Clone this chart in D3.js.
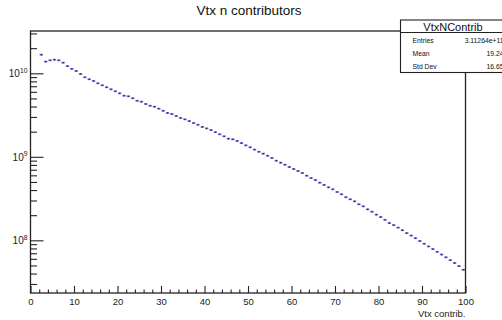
<!DOCTYPE html>
<html>
<head>
<meta charset="utf-8">
<script src="https://cdn.jsdelivr.net/npm/d3@7"></script>
<style>
  html, body { margin: 0; padding: 0; background: #fff; }
  svg { display: block; font-family: "Liberation Sans", Arial, Helvetica, sans-serif; }
</style>
</head>
<body>
<svg id="chart" width="502" height="320"></svg>
<script>
// Histogram of the number of contributors per vertex, bins of width 1 from 0 to 100
const binEdges = [0, 100];
const binCounts = [
  0, 0, 1.67e10, 1.38e10, 1.43e10, 1.455e10, 1.43e10, 1.34e10, 1.22e10, 1.13e10,
  1.065e10, 9.81e9, 8.96e9, 8.48e9, 8.09e9, 7.59e9, 7.18e9, 6.80e9, 6.43e9, 6.09e9,
  5.76e9, 5.39e9, 5.30e9, 5.02e9, 4.69e9, 4.57e9, 4.29e9, 4.09e9, 3.98e9, 3.77e9,
  3.56e9, 3.35e9, 3.25e9, 3.08e9, 2.92e9, 2.81e9, 2.68e9, 2.54e9, 2.42e9, 2.28e9,
  2.19e9, 2.09e9, 1.97e9, 1.86e9, 1.76e9, 1.65e9, 1.62e9, 1.55e9, 1.46e9, 1.37e9,
  1.30e9, 1.22e9, 1.15e9, 1.09e9, 1.03e9, 9.67e8, 8.98e8, 8.50e8, 8.04e8, 7.55e8,
  7.14e8, 6.76e8, 6.40e8, 5.94e8, 5.57e8, 5.27e8, 4.90e8, 4.60e8, 4.31e8, 4.08e8,
  3.79e8, 3.56e8, 3.28e8, 3.10e8, 2.93e8, 2.70e8, 2.55e8, 2.35e8, 2.20e8, 2.03e8,
  1.90e8, 1.76e8, 1.61e8, 1.52e8, 1.42e8, 1.32e8, 1.22e8, 1.14e8, 1.06e8, 9.81e7,
  9.10e7, 8.45e7, 7.85e7, 7.29e7, 6.76e7, 6.26e7, 5.79e7, 5.35e7, 4.92e7, 4.44e7
];

// Axis ticks and labels
const xMajorTicks = [0, 10, 20, 30, 40, 50, 60, 70, 80, 90, 100];
const xMinorTicks = d3.range(0, 101, 2).filter(v => v % 10 !== 0);
const yMajorTicks = [1e8, 1e9, 1e10];
const yMajorExponents = ["8", "9", "10"];
const yRange = [2.34e7, 3.21e10];

// Statistics box
const statsTitle = "VtxNContrib";
const statsNames = ["Entries", "Mean", "Std Dev"];
const statsValues = ["3.11264e+11", "19.24", "16.65"];

const chartTitle = "Vtx n contributors";
const xTitle = "Vtx contrib.";

const frame = { left: 30.5, right: 465.5, top: 31, bottom: 293 };

const svg = d3.select("#chart");

const x = d3.scaleLinear().domain(binEdges).range([frame.left, frame.right]);
const y = d3.scaleLog().domain(yRange).range([frame.bottom, frame.top]);

// Minor log ticks: 2..9 x 10^n inside the range
const yMinorTicks = [];
for (let e = 7; e <= 10; e++) {
  for (let k = 2; k <= 9; k++) {
    const v = k * Math.pow(10, e);
    if (v > yRange[0] && v < yRange[1]) yMinorTicks.push(v);
  }
}

// Histogram bins: one short horizontal stroke per bin plus a centre marker
const bins = binCounts.map((c, i) => ({ lo: i, hi: i + 1, c })).filter(d => d.c > 0);
const gHist = svg.append("g");
gHist.selectAll("line.bin")
  .data(bins)
  .join("line")
  .attr("class", "bin")
  .attr("x1", d => x(d.lo) + 0.5)
  .attr("x2", d => x(d.hi) - 0.5)
  .attr("y1", d => y(d.c))
  .attr("y2", d => y(d.c))
  .attr("stroke", "#7070d6")
  .attr("stroke-width", 1.8);
gHist.selectAll("rect.mk")
  .data(bins)
  .join("rect")
  .attr("class", "mk")
  .attr("x", d => x((d.lo + d.hi) / 2) - 0.6)
  .attr("y", d => y(d.c) - 0.6)
  .attr("width", 1.2)
  .attr("height", 1.2)
  .attr("fill", "#1c1c5c");

// X axis ticks (pointing into the frame)
const axisStroke = "#222";
const gxMinor = svg.append("g").attr("transform", `translate(0,${frame.bottom})`)
  .call(d3.axisBottom(x).tickValues(xMinorTicks).tickSize(-3.5).tickFormat(() => ""));
const gxMajor = svg.append("g").attr("transform", `translate(0,${frame.bottom})`)
  .call(d3.axisBottom(x).tickValues(xMajorTicks).tickSize(-7).tickPadding(5).tickFormat(d3.format("d")));
[gxMinor, gxMajor].forEach(g => {
  g.select(".domain").remove();
  g.selectAll(".tick line").attr("stroke", axisStroke).attr("stroke-width", 1.1);
});
gxMajor.selectAll(".tick text")
  .attr("fill", "#222")
  .attr("font-size", 9.5)
  .attr("font-family", "Liberation Sans, Arial, sans-serif");

// Y axis ticks (pointing into the frame)
const gyMinor = svg.append("g").attr("transform", `translate(${frame.left},0)`)
  .call(d3.axisLeft(y).tickValues(yMinorTicks).tickSize(-6.5).tickFormat(() => ""));
const gyMajor = svg.append("g").attr("transform", `translate(${frame.left},0)`)
  .call(d3.axisLeft(y).tickValues(yMajorTicks).tickSize(-13).tickFormat(() => ""));
[gyMinor, gyMajor].forEach(g => {
  g.select(".domain").remove();
  g.selectAll(".tick line").attr("stroke", axisStroke).attr("stroke-width", 1.1);
});

// Y labels as 10 with a raised exponent
svg.append("g").selectAll("text")
  .data(yMajorTicks)
  .join("text")
  .attr("x", frame.left - 3)
  .attr("y", d => y(d) + 4)
  .attr("text-anchor", "end")
  .attr("fill", "#222")
  .attr("font-size", 10)
  .each(function(d, i) {
    const t = d3.select(this);
    t.append("tspan").text("10");
    t.append("tspan").attr("dy", -4.5).attr("font-size", 6.8).text(yMajorExponents[i]);
  });

// Frame
svg.append("rect")
  .attr("x", frame.left).attr("y", frame.top)
  .attr("width", frame.right - frame.left).attr("height", frame.bottom - frame.top)
  .attr("fill", "none").attr("stroke", axisStroke).attr("stroke-width", 1.3);

// Titles
svg.append("text")
  .attr("x", 249).attr("y", 15)
  .attr("text-anchor", "middle")
  .attr("font-size", 13.5)
  .attr("fill", "#111")
  .text(chartTitle);

svg.append("text")
  .attr("x", frame.right).attr("y", 317)
  .attr("text-anchor", "end")
  .attr("font-size", 9.5)
  .attr("fill", "#222")
  .text(xTitle);

// Statistics box
const box = { left: 400.5, top: 20, right: 506, bottom: 72.5, header: 32.5 };
const gStats = svg.append("g");
gStats.append("rect")
  .attr("x", box.left).attr("y", box.top)
  .attr("width", box.right - box.left).attr("height", box.bottom - box.top)
  .attr("fill", "#fff").attr("stroke", "#222").attr("stroke-width", 1.1);
gStats.append("line")
  .attr("x1", box.left).attr("x2", box.right)
  .attr("y1", box.header).attr("y2", box.header)
  .attr("stroke", "#222").attr("stroke-width", 1);
gStats.append("text")
  .attr("x", 453).attr("y", 30.5)
  .attr("text-anchor", "middle")
  .attr("font-size", 11)
  .attr("fill", "#111")
  .text(statsTitle);
const rowY = d3.scalePoint().domain(statsNames).range([43, 69]);
gStats.selectAll("text.name")
  .data(statsNames)
  .join("text")
  .attr("class", "name")
  .attr("x", 412.5).attr("y", d => rowY(d))
  .attr("font-size", 6.8)
  .attr("fill", "#111")
  .text(d => d);
gStats.selectAll("text.val")
  .data(statsValues)
  .join("text")
  .attr("class", "val")
  .attr("x", 503.5).attr("y", (d, i) => rowY(statsNames[i]))
  .attr("text-anchor", "end")
  .attr("font-size", 6.8)
  .attr("fill", "#111")
  .text(d => d);
</script>
</body>
</html>
